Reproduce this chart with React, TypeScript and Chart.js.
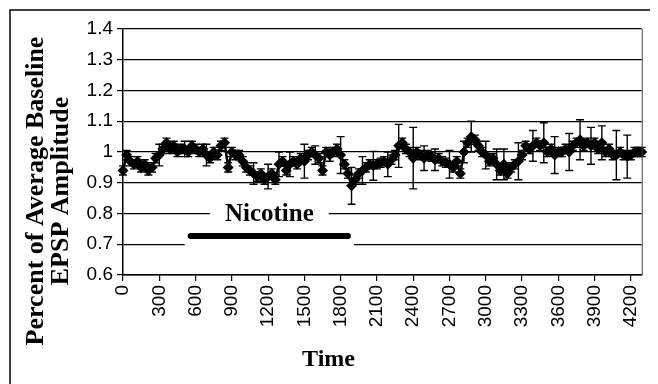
import React, { useEffect, useRef } from 'react';
import { Chart, registerables } from 'chart.js';

Chart.register(...registerables);

// Time (s) of each sample
const times = [
  0, 30, 60, 90, 120, 150, 180, 210, 240, 270,
  300, 330, 360, 390, 420, 450, 480, 510, 540, 570,
  600, 630, 660, 690, 720, 750, 780, 810, 840, 870,
  900, 930, 960, 990, 1020, 1050, 1080, 1110, 1140, 1170,
  1200, 1230, 1260, 1290, 1320, 1350, 1380, 1410, 1440, 1470,
  1500, 1530, 1560, 1590, 1620, 1650, 1680, 1710, 1740, 1770,
  1800, 1830, 1860, 1890, 1920, 1950, 1980, 2010, 2040, 2070,
  2100, 2130, 2160, 2190, 2220, 2250, 2280, 2310, 2340, 2370,
  2400, 2430, 2460, 2490, 2520, 2550, 2580, 2610, 2640, 2670,
  2700, 2730, 2760, 2790, 2820, 2850, 2880, 2910, 2940, 2970,
  3000, 3030, 3060, 3090, 3120, 3150, 3180, 3210, 3240, 3270,
  3300, 3330, 3360, 3390, 3420, 3450, 3480, 3510, 3540, 3570,
  3600, 3630, 3660, 3690, 3720, 3750, 3780, 3810, 3840, 3870,
  3900, 3930, 3960, 3990, 4020, 4050, 4080, 4110, 4140, 4170,
  4200, 4230, 4260, 4290,
];

// Percent of average baseline EPSP amplitude
const amplitude = [
  0.94, 0.99, 0.97, 0.96, 0.97, 0.95, 0.96, 0.94, 0.95, 0.98,
  0.99, 1.01, 1.03, 1.01, 1.02, 1.0, 1.01, 1.01, 1.0, 1.02,
  1.01, 1.0, 1.01, 0.99, 0.98, 1.0, 0.99, 1.02, 1.03, 0.95,
  1.0, 0.99, 0.99, 0.97, 0.95, 0.94, 0.93, 0.92, 0.93, 0.91,
  0.92, 0.93, 0.91, 0.96, 0.97, 0.94, 0.96, 0.97, 0.96, 0.98,
  0.97, 0.99, 1.0, 0.99, 0.98, 0.94, 1.0, 0.99, 1.0, 1.01,
  0.99, 0.96, 0.93, 0.89, 0.91, 0.93, 0.94, 0.95, 0.96, 0.955,
  0.96, 0.965, 0.97, 0.96, 0.975, 0.99, 1.02, 1.03, 1.01, 1.0,
  0.98, 1.0, 0.99, 0.98, 0.99, 0.985, 0.975, 0.98, 0.97, 0.965,
  0.96, 0.95, 0.97, 0.93, 1.0, 1.03, 1.05, 1.04, 1.02, 1.0,
  0.99, 0.97, 0.98, 0.96, 0.94, 0.96, 0.93, 0.95, 0.96, 0.97,
  0.99, 1.02, 1.01, 1.02, 1.03, 1.02, 1.03, 1.0, 1.01, 0.99,
  1.0, 1.0, 1.01, 1.0, 1.02, 1.03, 1.04, 1.02, 1.03, 1.02,
  1.03, 1.01, 1.03, 1.0, 1.01, 0.99, 0.99, 1.0, 0.99, 0.985,
  0.99, 1.0, 1.0, 1.0,
];

// Standard error of each sample
const errors = [
  0.015, 0.015, 0.015, 0.015, 0.015, 0.015, 0.015, 0.015, 0.015, 0.015,
  0.035, 0.015, 0.015, 0.015, 0.015, 0.015, 0.015, 0.025, 0.015, 0.015,
  0.015, 0.015, 0.015, 0.035, 0.015, 0.015, 0.015, 0.015, 0.015, 0.015,
  0.015, 0.015, 0.015, 0.015, 0.015, 0.015, 0.035, 0.015, 0.015, 0.015,
  0.04, 0.015, 0.015, 0.04, 0.015, 0.015, 0.04, 0.015, 0.015, 0.015,
  0.055, 0.015, 0.015, 0.03, 0.015, 0.015, 0.015, 0.02, 0.015, 0.015,
  0.06, 0.015, 0.015, 0.06, 0.015, 0.015, 0.045, 0.015, 0.015, 0.047,
  0.015, 0.015, 0.015, 0.04, 0.015, 0.015, 0.07, 0.015, 0.015, 0.015,
  0.1, 0.015, 0.015, 0.04, 0.015, 0.015, 0.035, 0.015, 0.015, 0.015,
  0.045, 0.015, 0.015, 0.015, 0.035, 0.015, 0.05, 0.015, 0.015, 0.015,
  0.045, 0.015, 0.015, 0.05, 0.015, 0.05, 0.015, 0.015, 0.015, 0.06,
  0.015, 0.015, 0.015, 0.05, 0.015, 0.015, 0.065, 0.015, 0.015, 0.06,
  0.015, 0.015, 0.015, 0.06, 0.015, 0.015, 0.065, 0.015, 0.015, 0.06,
  0.015, 0.015, 0.055, 0.015, 0.015, 0.015, 0.08, 0.015, 0.015, 0.07,
  0.015, 0.015, 0.015, 0.015,
];

const xTickValues = [0, 300, 600, 900, 1200, 1500, 1800, 2100, 2400, 2700, 3000, 3300, 3600, 3900, 4200];
const xTickLabels = ['0', '300', '600', '900', '1200', '1500', '1800', '2100', '2400', '2700', '3000', '3300', '3600', '3900', '4200'];
const yTickValues = [0.6, 0.7, 0.8, 0.9, 1.0, 1.1, 1.2, 1.3, 1.4];
const yTickLabels = ['0.6', '0.7', '0.8', '0.9', '1', '1.1', '1.2', '1.3', '1.4'];

const xMin = 0;
const xMax = 4290;
const yMin = 0.6;
const yMax = 1.4;

// Nicotine application period
const nicotineLabel = 'Nicotine';
const nicotineStart = 560;
const nicotineEnd = 1860;
const nicotineLevel = 0.727;

const serif = "'Liberation Serif', 'Times New Roman', serif";
const sans = "'Liberation Sans', Arial, sans-serif";

const errorBarPlugin = {
  id: 'errorBars',
  afterDatasetsDraw(chart: any) {
    const { ctx } = chart;
    const x = chart.scales.x;
    const y = chart.scales.y;
    ctx.save();
    ctx.strokeStyle = '#000';
    ctx.lineWidth = 1.4;
    times.forEach((t, i) => {
      const px = x.getPixelForValue(t);
      const top = y.getPixelForValue(amplitude[i] + errors[i]);
      const bot = y.getPixelForValue(amplitude[i] - errors[i]);
      ctx.beginPath();
      ctx.moveTo(px, top);
      ctx.lineTo(px, bot);
      ctx.moveTo(px - 4, top);
      ctx.lineTo(px + 4, top);
      ctx.moveTo(px - 4, bot);
      ctx.lineTo(px + 4, bot);
      ctx.stroke();
    });
    ctx.restore();
  },
};

const nicotinePlugin = {
  id: 'nicotine',
  beforeDatasetsDraw(chart: any) {
    const { ctx } = chart;
    const x = chart.scales.x;
    const y = chart.scales.y;
    const x1 = x.getPixelForValue(nicotineStart);
    const x2 = x.getPixelForValue(nicotineEnd);
    const yb = y.getPixelForValue(nicotineLevel);
    const cx = (x1 + x2) / 2;
    const ty = yb - 21;
    ctx.save();
    ctx.font = `bold 25px ${serif}`;
    const tw = ctx.measureText(nicotineLabel).width;
    ctx.fillStyle = '#fff';
    ctx.fillRect(x1 - 6, yb - 12, x2 - x1 + 12, 24);
    ctx.fillRect(cx - tw / 2 - 15, ty - 12, tw + 30, 24);
    ctx.strokeStyle = '#000';
    ctx.lineWidth = 6;
    ctx.lineCap = 'round';
    ctx.beginPath();
    ctx.moveTo(x1, yb);
    ctx.lineTo(x2, yb);
    ctx.stroke();
    ctx.fillStyle = '#000';
    ctx.textAlign = 'center';
    ctx.textBaseline = 'middle';
    ctx.fillText(nicotineLabel, cx, ty);
    ctx.restore();
  },
};

const framePlugin = {
  id: 'frame',
  beforeDraw(chart: any) {
    const { ctx, width, height } = chart;
    ctx.save();
    ctx.strokeStyle = '#000';
    ctx.lineWidth = 1.5;
    ctx.beginPath();
    ctx.moveTo(2, height);
    ctx.lineTo(2, 2);
    ctx.lineTo(width, 2);
    ctx.stroke();
    ctx.restore();
  },
  afterDraw(chart: any) {
    const { ctx, chartArea } = chart;
    ctx.save();
    ctx.strokeStyle = '#444';
    ctx.lineWidth = 1;
    ctx.beginPath();
    ctx.moveTo(chartArea.right + 0.5, chartArea.top);
    ctx.lineTo(chartArea.right + 0.5, chartArea.bottom);
    ctx.stroke();
    ctx.restore();
  },
};

export default function App() {
  const canvasRef = useRef<HTMLCanvasElement | null>(null);

  useEffect(() => {
    if (!canvasRef.current) return;
    const chart = new Chart(canvasRef.current, {
      type: 'line',
      data: {
        datasets: [
          {
            data: times.map((t, i) => ({ x: t, y: amplitude[i] })),
            borderColor: '#000',
            backgroundColor: '#000',
            borderWidth: 2.5,
            pointStyle: 'rectRot',
            pointRadius: 5.5,
            pointBorderWidth: 0,
            pointBackgroundColor: '#000',
            clip: false as any,
          },
        ],
      },
      options: {
        animation: false,
        responsive: false,
        events: [],
        layout: { padding: { top: 0, right: 9, left: 0, bottom: 10 } },
        plugins: {
          legend: { display: false },
          tooltip: { enabled: false },
          title: {
            display: true,
            position: 'left',
            text: ['Percent of Average Baseline', 'EPSP Amplitude'],
            color: '#000',
            font: { family: serif, size: 26, weight: 'bold', lineHeight: 0.95 },
            padding: { top: 16, bottom: 0 },
          },
          subtitle: {
            display: true,
            position: 'bottom',
            text: 'Time',
            color: '#000',
            font: { family: serif, size: 24, weight: 'bold', lineHeight: 1.2 },
            padding: { top: 0, bottom: 0 },
          },
        },
        scales: {
          x: {
            type: 'linear',
            min: xMin,
            max: xMax,
            afterBuildTicks: (s: any) => {
              s.ticks = xTickValues.map((v) => ({ value: v }));
            },
            afterFit: (s: any) => {
              s.height = 70.2;
            },
            ticks: {
              autoSkip: false,
              minRotation: 90,
              maxRotation: 90,
              padding: 4,
              color: '#000',
              font: { family: sans, size: 19 },
              callback: (_v: any, i: number) => xTickLabels[i],
            },
            grid: { drawOnChartArea: false, drawTicks: true, tickLength: 6, color: '#000', lineWidth: 1.2 },
            border: { display: true, color: '#000', width: 1.5 },
          },
          xTop: {
            type: 'linear',
            axis: 'x',
            position: 'top',
            display: true,
            ticks: { display: false },
            grid: { display: false, drawTicks: false },
            border: { display: false },
            afterFit: (s: any) => {
              s.height = 21;
            },
          },
          y: {
            type: 'linear',
            min: yMin,
            max: yMax,
            afterBuildTicks: (s: any) => {
              s.ticks = yTickValues.map((v) => ({ value: v }));
            },
            afterFit: (s: any) => {
              s.width = 115 - (2 * 26 * 0.95 + 16);
            },
            ticks: {
              padding: 4,
              color: '#000',
              font: { family: sans, size: 19 },
              callback: (_v: any, i: number) => yTickLabels[i],
            },
            grid: { drawTicks: true, tickLength: 6, color: '#000', lineWidth: 1.2 },
            border: { display: true, color: '#000', width: 1.5 },
          },
        },
      } as any,
      plugins: [errorBarPlugin, nicotinePlugin, framePlugin],
    });
    return () => chart.destroy();
  }, []);

  return (
    <div style={{ width: 650, height: 376 }}>
      <canvas ref={canvasRef} width={650} height={376} style={{ display: 'block' }} />
    </div>
  );
}
